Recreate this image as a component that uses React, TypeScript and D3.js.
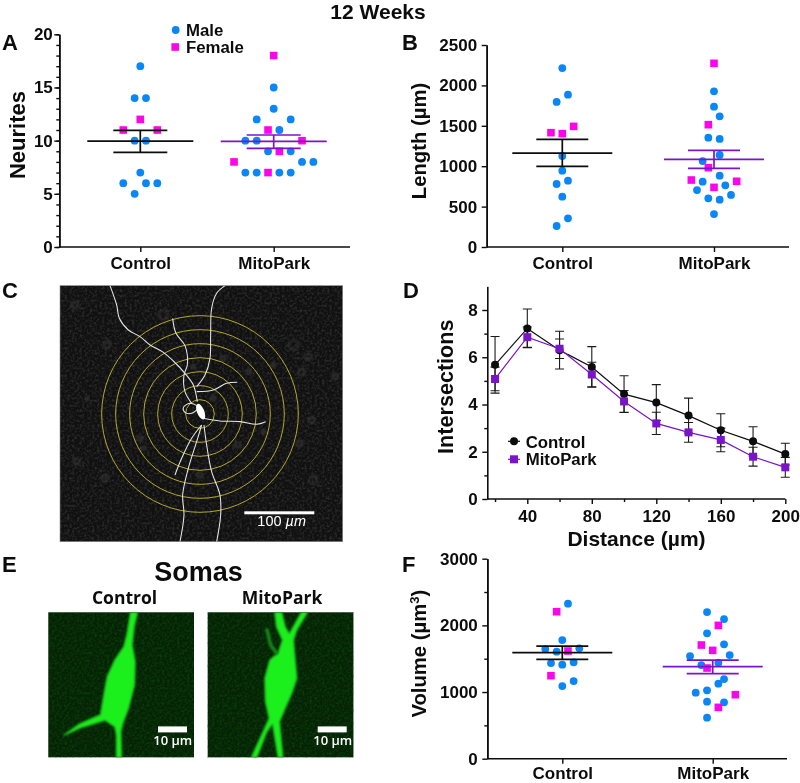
import React, { useEffect, useRef } from "react";
import * as d3 from "d3";

const FONT = "'Liberation Sans', Arial, sans-serif";
const BLUE = "#0a86f7";
const MAGENTA = "#fb05ea";
const PURPLE = "#7a14c8";
const BLACK = "#0c0c0c";
const SLOT_PX = 17 / 3;

const GROUPS = ["Control", "MitoPark"];
type P = [number, number]; // [value, swarm slot]

// Panel A: Neurites
const aControlMale: P[] = [[17,0],[14,-1],[14,1],[10,-1],[10,1],[7,0],[6,-3],[6,1],[6,3],[5,-1]];
const aControlFemale: P[] = [[12,0],[11,-3],[11,3]];
const aMitoMale: P[] = [[15,0],[13,0],[12,-3],[12,3],[11,1],[10,-5],[10,-3],[9,-1],[9,3],[8,5],[8,7],[7,-5],[7,-3],[7,1],[7,3]];
const aMitoFemale: P[] = [[18,0],[11,-1],[10,5],[9,1],[8,-7],[7,-1]];
const aStats = [[9.95, 8.9, 10.97], [9.93, 9.28, 10.53]];

// Panel B: Length
const bControlMale: P[] = [[2215,0],[1885,1],[1795,-1],[1126,0],[945,0],[821,1],[780,-1],[623,0],[355,1],[260,-1]];
const bControlFemale: P[] = [[1493,2],[1415,-2],[1403,0]];
const bMitoMale: P[] = [[1927,0],[1737,0],[1617,1],[1353,-1],[1337,1],[1139,1],[1064,-2],[883,1],[808,-2],[763,2],[705,-3],[602,-1],[586,1],[644,3],[408,0]];
const bMitoFemale: P[] = [[2273,0],[1514,-1],[982,-1],[829,-4],[738,0],[813,4]];
const bStats = [[1163, 998, 1332], [1085, 973, 1196]];

// Panel F: Volume
const fControlMale: P[] = [[2325,1],[1780,0],[1645,-3],[1655,3],[1605,-1],[1435,-2],[1410,0],[1445,2],[1165,2],[1090,0]];
const fControlFemale: P[] = [[2205,-1],[1615,1],[1245,-2]];
const fMitoMale: P[] = [[2200,-1],[2095,2],[1880,-1],[1715,2],[1555,3],[1540,-4],[1405,-2],[1440,1],[1195,2],[1125,1],[990,-3],[1025,-1],[855,-1],[845,2],[615,-1]];
const fMitoFemale: P[] = [[2000,1],[1705,-2],[1625,0],[1360,-1],[960,4],[770,1]];
const fStats = [[1590, 1490, 1690], [1380, 1275, 1480]];

// Panel D: Sholl analysis
const distances = [20,40,60,80,100,120,140,160,180,200];
const shollControl = [5.68,7.22,6.30,5.59,4.44,4.08,3.53,2.91,2.44,1.90];
const shollControlErr = [1.2,0.82,0.8,0.86,0.78,0.76,0.74,0.7,0.62,0.46];
const shollMito = [5.08,6.85,6.36,5.27,4.13,3.20,2.82,2.50,1.79,1.34];
const shollMitoErr = [0.5,0.43,0.41,0.52,0.46,0.47,0.42,0.5,0.4,0.42];

// Panel C micrograph overlay (drawn in 3x coordinates)
const shollRadii = [43,85,127,169,211,253,295];
const neuronTraces: [number, number][][] = [
  [[330,32],[350,90],[358,130],[385,165],[420,185],[450,210],[490,232],[520,258],[555,295],[580,330],[592,380]],
  [[675,32],[650,55],[635,100],[632,180],[630,250],[615,300],[590,335]],
  [[518,130],[528,175],[555,212],[562,270],[552,300],[555,350],[575,385]],
  [[590,350],[640,345],[680,325],[712,322]],
  [[595,395],[570,385],[550,398],[555,412],[575,415],[595,400]],
  [[610,430],[660,438],[720,440],[770,448],[797,440]],
  [[605,450],[575,490],[545,550],[525,600]],
  [[605,450],[590,500],[565,580],[548,660],[552,720],[540,800]],
  [[612,450],[620,510],[635,590],[660,660],[662,720],[650,800]],
];
const faintCells: [number, number, number][] = [
  [880,210,14],[925,245,10],[905,292,10],[1005,305,8],[745,290,7],[712,510,8],[900,505,9],[490,120,14],
  [225,90,10],[320,210,10],[230,560,9],[315,610,10],[940,615,12],[935,435,9],[640,370,7],[420,490,8],
  [580,275,6],[670,250,7],[430,520,6],[600,600,8],[262,372,5],[790,470,6],[820,270,6],
];

// Panel E soma outlines (3x coordinates)
const somaLeft = "M392,202 L412,202 L402,245 L396,300 L405,350 L403,420 L385,490 L368,535 L362,560 L364,637 L350,637 L350,570 L345,545 L315,525 L285,535 L240,548 L190,572 L238,538 L282,518 L302,510 L312,450 L322,395 L345,345 L372,305 L382,265 Z";
const somaRight = "M825,202 L845,202 L855,245 L868,268 L905,202 L922,202 L890,255 L880,285 L885,345 L890,400 L875,445 L855,490 L838,530 L848,637 L835,637 L818,535 L800,560 L770,637 L755,637 L790,560 L808,520 L797,470 L795,400 L810,345 L835,325 L848,285 L830,245 Z";
const somaRightBranch = "M800,250 L812,300 L832,328";

interface ScatterCfg {
  left: number; right: number; top: number; bottom: number;
  c0: number; c1: number; max: number; major: number[]; minor: number[];
  meanHalf: number; semHalf: number; yPad: number; xPad: number;
  series: [P[], P[], P[], P[]]; stats: number[][];
}

const cfgA: ScatterCfg = { left: 59.3, right: 350, top: 34.3, bottom: 247, c0: 140.3, c1: 273.7, max: 20,
  major: [0,5,10,15,20], minor: d3.range(0,21), meanHalf: 53, semHalf: 27, yPad: 1.5, xPad: 5,
  series: [aControlMale, aControlFemale, aMitoMale, aMitoFemale], stats: aStats };
const cfgB: ScatterCfg = { left: 486.7, right: 789, top: 45, bottom: 247, c0: 562.3, c1: 714, max: 2500,
  major: [0,500,1000,1500,2000,2500], minor: [], meanHalf: 50, semHalf: 26, yPad: 4.5, xPad: 5,
  series: [bControlMale, bControlFemale, bMitoMale, bMitoFemale], stats: bStats };
const cfgF: ScatterCfg = { left: 487.3, right: 787, top: 558.7, bottom: 758.7, c0: 562.3, c1: 712.7, max: 3000,
  major: [0,1000,2000,3000], minor: [500,1500,2500], meanHalf: 50, semHalf: 26, yPad: 4.5, xPad: 3.2,
  series: [fControlMale, fControlFemale, fMitoMale, fMitoFemale], stats: fStats };

type Sel = d3.Selection<SVGGElement, unknown, null, undefined>;
const plain = d3.format("d");

function styleAxis(g: Sel, size: number) {
  g.selectAll("path.domain").attr("stroke", BLACK).attr("stroke-width", 1.6);
  g.selectAll(".tick line").attr("stroke", BLACK).attr("stroke-width", 1.4);
  g.selectAll(".tick text").attr("fill", BLACK).attr("font-family", FONT).attr("font-weight", 700).attr("font-size", size);
}

function scatter(root: Sel, c: ScatterCfg) {
  const y = d3.scaleLinear().domain([0, c.max]).range([c.bottom, c.top]);
  const x = d3.scaleOrdinal<string, number>().domain(GROUPS).range([c.c0, c.c1]);
  const g = root.append("g");

  const minorAxis = g.append("g").attr("transform", `translate(${c.left},0)`)
    .call(d3.axisLeft(y).tickValues(c.minor).tickSize(3).tickFormat(() => "").tickSizeOuter(0));
  styleAxis(minorAxis, 17);
  const yAxis = g.append("g").attr("transform", `translate(${c.left},0)`)
    .call(d3.axisLeft(y).tickValues(c.major).tickFormat(plain as any).tickSize(5).tickPadding(c.yPad).tickSizeOuter(0));
  styleAxis(yAxis, 17);

  const xAxis = g.append("g").attr("transform", `translate(0,${c.bottom})`)
    .call(d3.axisBottom(x as any).tickValues(GROUPS).tickSize(5).tickPadding(c.xPad).tickSizeOuter(0));
  styleAxis(xAxis, 17);
  xAxis.select("path.domain").remove();
  g.append("line").attr("x1", c.left).attr("x2", c.right).attr("y1", c.bottom).attr("y2", c.bottom)
    .attr("stroke", BLACK).attr("stroke-width", 1.6);

  const drawPts = (pts: P[], group: string, female: boolean) => {
    const cx = x(group);
    pts.forEach(([v, slot]) => {
      if (female) {
        g.append("rect").attr("x", cx + slot * SLOT_PX - 3.8).attr("y", y(v) - 3.8)
          .attr("width", 7.6).attr("height", 7.6).attr("fill", MAGENTA);
      } else {
        g.append("circle").attr("cx", cx + slot * SLOT_PX).attr("cy", y(v)).attr("r", 3.9).attr("fill", BLUE);
      }
    });
  };
  drawPts(c.series[0], GROUPS[0], false);
  drawPts(c.series[1], GROUPS[0], true);
  drawPts(c.series[2], GROUPS[1], false);
  drawPts(c.series[3], GROUPS[1], true);

  GROUPS.forEach((grp, i) => {
    const [m, lo, hi] = c.stats[i];
    const col = i === 0 ? BLACK : PURPLE;
    const cx = x(grp);
    const hl = (v: number, h: number) =>
      g.append("line").attr("x1", cx - h).attr("x2", cx + h).attr("y1", y(v)).attr("y2", y(v))
        .attr("stroke", col).attr("stroke-width", 1.7);
    hl(m, c.meanHalf);
    hl(lo, c.semHalf);
    hl(hi, c.semHalf);
    g.append("line").attr("x1", cx).attr("x2", cx).attr("y1", y(lo)).attr("y2", y(hi))
      .attr("stroke", col).attr("stroke-width", 1.7);
  });
}

function sholl(root: Sel) {
  const x = d3.scaleLinear().domain([40, 200]).range([527.3, 785.3]);
  const y = d3.scaleLinear().domain([0, 8]).range([499, 310]);
  const g = root.append("g");

  const ym = g.append("g").attr("transform", "translate(487.3,0)")
    .call(d3.axisLeft(y.copy().domain([0, 9]).range([499, y(9)])).tickValues([1,3,5,7]).tickSize(3).tickFormat(() => "").tickSizeOuter(0));
  styleAxis(ym, 17);
  const yA = g.append("g").attr("transform", "translate(487.3,0)")
    .call(d3.axisLeft(y).tickValues([0,2,4,6,8]).tickSize(5).tickPadding(4.5).tickSizeOuter(0));
  styleAxis(yA, 17);
  yA.select("path.domain").remove();

  const xm = g.append("g").attr("transform", "translate(0,499)")
    .call(d3.axisBottom(x).tickValues([20,60,100,140,180]).tickSize(3).tickFormat(() => "").tickSizeOuter(0));
  styleAxis(xm, 17);
  xm.select("path.domain").remove();
  const xA = g.append("g").attr("transform", "translate(0,499)")
    .call(d3.axisBottom(x).tickValues([40,80,120,160,200]).tickSize(5).tickPadding(6).tickSizeOuter(0));
  styleAxis(xA, 17);
  xA.select("path.domain").remove();
  g.append("line").attr("x1", 487.3).attr("x2", 785.3).attr("y1", 499).attr("y2", 499)
    .attr("stroke", BLACK).attr("stroke-width", 1.6);

  const line = d3.line<number>().x((_, i) => x(distances[i])).y((d) => y(d));
  const errs = (vals: number[], err: number[]) => {
    vals.forEach((v, i) => {
      const cx = x(distances[i]);
      const hi = y(v + err[i]);
      const lo = y(v - err[i]);
      const path = `M${cx},${lo}V${hi}M${cx - 4.5},${hi}H${cx + 4.5}M${cx - 4.5},${lo}H${cx + 4.5}`;
      g.append("path").attr("d", path).attr("fill", "none").attr("stroke", "#1a1a1a").attr("stroke-width", 1.1);
    });
  };
  errs(shollControl, shollControlErr);
  errs(shollMito, shollMitoErr);
  g.append("path").attr("d", line(shollControl)).attr("fill", "none").attr("stroke", BLACK).attr("stroke-width", 1.2);
  g.append("path").attr("d", line(shollMito)).attr("fill", "none").attr("stroke", PURPLE).attr("stroke-width", 1.2);
  shollControl.forEach((v, i) => {
    g.append("circle").attr("cx", x(distances[i])).attr("cy", y(v)).attr("r", 4).attr("fill", BLACK);
  });
  shollMito.forEach((v, i) => {
    g.append("rect").attr("x", x(distances[i]) - 4).attr("y", y(v) - 4).attr("width", 8).attr("height", 8).attr("fill", PURPLE);
  });

  // legend
  g.append("line").attr("x1", 508).attr("x2", 520).attr("y1", 441.3).attr("y2", 441.3).attr("stroke", BLACK).attr("stroke-width", 1.2);
  g.append("circle").attr("cx", 514).attr("cy", 441.3).attr("r", 4).attr("fill", BLACK);
  g.append("line").attr("x1", 508).attr("x2", 520).attr("y1", 459.3).attr("y2", 459.3).attr("stroke", PURPLE).attr("stroke-width", 1.2);
  g.append("rect").attr("x", 510).attr("y", 455.3).attr("width", 8).attr("height", 8).attr("fill", PURPLE);
  label(g, 525.7, 447.5, "Control", 16.8);
  label(g, 525.7, 465.3, "MitoPark", 16.8);
}

function label(g: Sel, x: number, y: number, t: string, size: number, anchor = "start", fill = BLACK) {
  return g.append("text").attr("x", x).attr("y", y).attr("font-family", FONT).attr("font-weight", 700)
    .attr("font-size", size).attr("fill", fill).attr("text-anchor", anchor).text(t);
}

function vLabel(g: Sel, x: number, y: number, t: string, size: number) {
  return g.append("text").attr("transform", `translate(${x},${y}) rotate(-90)`).attr("font-family", FONT)
    .attr("font-weight", 700).attr("font-size", size).attr("fill", BLACK).attr("text-anchor", "middle").text(t);
}

function panelC(root: Sel) {
  const g = root.append("g");
  g.append("rect").attr("x", 60).attr("y", 285.7).attr("width", 282.7).attr("height", 256).attr("fill", "#101010").attr("stroke", "#8a8a8a").attr("stroke-width", 0.6);
  g.append("rect").attr("x", 60).attr("y", 285.7).attr("width", 282.7).attr("height", 256).attr("filter", "url(#noiseGray)");
  const z = g.append("g").attr("transform", "translate(0,275) scale(0.3333)").attr("clip-path", "url(#clipC)");
  faintCells.forEach(([cx, cy, r]) => {
    z.append("circle").attr("cx", cx).attr("cy", cy).attr("r", r).attr("fill", "none").attr("stroke", "#3c3c3c")
      .attr("stroke-width", 4).attr("filter", "url(#soft)");
  });
  shollRadii.forEach((r) => {
    z.append("circle").attr("cx", 600).attr("cy", 417).attr("r", r).attr("fill", "none").attr("stroke", "#b4a92e").attr("stroke-width", 3);
  });
  const ln = d3.line<[number, number]>().curve(d3.curveCatmullRom);
  neuronTraces.forEach((t) => {
    z.append("path").attr("d", ln(t)).attr("fill", "none").attr("stroke", "#e6e6e6").attr("stroke-width", 3.2);
  });
  z.append("ellipse").attr("cx", 0).attr("cy", 0).attr("rx", 11).attr("ry", 25)
    .attr("transform", "translate(602,410) rotate(-22)").attr("fill", "#ffffff");
  g.append("rect").attr("x", 244.3).attr("y", 511.3).attr("width", 70).attr("height", 3).attr("fill", "#fff");
  const t = g.append("text").attr("x", 281.7).attr("y", 526).attr("text-anchor", "middle").attr("fill", "#fff")
    .attr("font-family", FONT).attr("font-size", 14.5);
  t.append("tspan").text("100 ");
  t.append("tspan").attr("font-style", "italic").text("µm");
}

function panelE(root: Sel) {
  const imgs = [
    { x: 48.3, id: "clipE0", title: "Control", tx: 124.5, d: somaLeft, bar: 158, barText: 172.8 },
    { x: 207.7, id: "clipE1", title: "MitoPark", tx: 282, d: somaRight, bar: 317.7, barText: 332.8 },
  ];
  imgs.forEach((m) => {
    const g = root.append("g");
    g.append("rect").attr("x", m.x).attr("y", 612.3).attr("width", 145.7).attr("height", 145).attr("fill", "#052205");
    g.append("rect").attr("x", m.x).attr("y", 612.3).attr("width", 145.7).attr("height", 145).attr("filter", "url(#noiseGreen)");
    const z = g.append("g").attr("clip-path", `url(#${m.id})`).append("g").attr("transform", "translate(0,545) scale(0.3333)");
    z.append("path").attr("d", m.d).attr("fill", "#147a14").attr("stroke", "#147a14").attr("stroke-width", 6).attr("filter", "url(#soft)");
    z.append("path").attr("d", m.d).attr("fill", "#1ff01f").attr("filter", "url(#soft2)");
    if (m.d === somaRight) {
      z.append("path").attr("d", somaRightBranch).attr("fill", "none").attr("stroke", "#1a8a1a").attr("stroke-width", 10).attr("filter", "url(#soft)");
    }
    g.append("rect").attr("x", m.bar).attr("y", 726.4).attr("width", 29).attr("height", 6).attr("fill", "#fff");
    g.append("text").attr("x", m.barText).attr("y", 745).attr("text-anchor", "middle").attr("fill", "#fff")
      .attr("font-family", "'Open Sans', sans-serif").attr("font-weight", 600).attr("font-size", 13).text("10 µm");
    g.append("text").attr("x", m.tx).attr("y", 604).attr("text-anchor", "middle").attr("fill", BLACK)
      .attr("font-family", "'Open Sans', sans-serif").attr("font-weight", 700).attr("font-size", 17.5).text(m.title);
  });
}

export default function App() {
  const ref = useRef<SVGSVGElement | null>(null);
  useEffect(() => {
    const svg = d3.select(ref.current as SVGSVGElement);
    svg.selectAll("g.root").remove();
    const root = svg.append("g").attr("class", "root").attr("filter", "url(#pageSoft)") as unknown as Sel;

    scatter(root, cfgA);
    scatter(root, cfgB);
    scatter(root, cfgF);
    sholl(root);
    panelC(root);
    panelE(root);

    label(root, 378, 19, "12 Weeks", 21, "middle");
    ([["A",2,50],["B",402,50],["C",2,298],["D",403,298],["E",2,571.7],["F",402,571.7]] as [string,number,number][])
      .forEach(([t, x, y]) => label(root, x, y, t, 22));
    label(root, 198.5, 581, "Somas", 27, "middle");

    // Panel A legend
    root.append("circle").attr("cx", 175.7).attr("cy", 30).attr("r", 3.9).attr("fill", BLUE);
    root.append("rect").attr("x", 171.4).attr("y", 43.2).attr("width", 7.6).attr("height", 7.6).attr("fill", MAGENTA);
    label(root, 186, 35.8, "Male", 16.8);
    label(root, 186, 53, "Female", 16.8);

    vLabel(root, 25, 135, "Neurites", 22);
    vLabel(root, 426, 141, "Length (µm)", 20.3);
    vLabel(root, 453, 386.7, "Intersections", 21.6);
    label(root, 636.5, 546, "Distance (µm)", 21, "middle");
    const vol = vLabel(root, 426, 653.7, "Volume (µm", 20.3);
    vol.append("tspan").attr("font-size", 13).attr("dy", -7).text("3");
    vol.append("tspan").attr("dy", 7).text(")");
  }, []);

  return (
    <svg ref={ref} width={800} height={783} viewBox="0 0 800 783"
      style={{ position: "absolute", left: 0, top: 0, background: "#fff" }}>
      <defs>
        <filter id="pageSoft" filterUnits="userSpaceOnUse" x="0" y="0" width="800" height="783" colorInterpolationFilters="sRGB">
          <feGaussianBlur stdDeviation="0.4" />
        </filter>
        <filter id="noiseGray" x="0" y="0" width="100%" height="100%" colorInterpolationFilters="sRGB">
          <feTurbulence type="fractalNoise" baseFrequency="0.4" numOctaves={2} seed={4} />
          <feColorMatrix values="0 0 0 0 0.42  0 0 0 0 0.42  0 0 0 0 0.42  0.8 0 0 0 -0.34" />
        </filter>
        <filter id="noiseGreen" x="0" y="0" width="100%" height="100%" colorInterpolationFilters="sRGB">
          <feTurbulence type="fractalNoise" baseFrequency="0.4" numOctaves={2} seed={9} />
          <feColorMatrix values="0 0 0 0 0.06  0 0 0 0 0.42  0 0 0 0 0.06  0.9 0 0 0 -0.36" />
        </filter>
        <filter id="soft" x="-30%" y="-30%" width="160%" height="160%"><feGaussianBlur stdDeviation="3.5" /></filter>
        <filter id="soft2" x="-10%" y="-10%" width="120%" height="120%"><feGaussianBlur stdDeviation="2.5" /></filter>
        <clipPath id="clipC"><rect x={180} y={32} width={848} height={768} /></clipPath>
        <clipPath id="clipE0"><rect x={48.3} y={612.3} width={145.7} height={145} /></clipPath>
        <clipPath id="clipE1"><rect x={207.7} y={612.3} width={145.7} height={145} /></clipPath>
      </defs>
    </svg>
  );
}
